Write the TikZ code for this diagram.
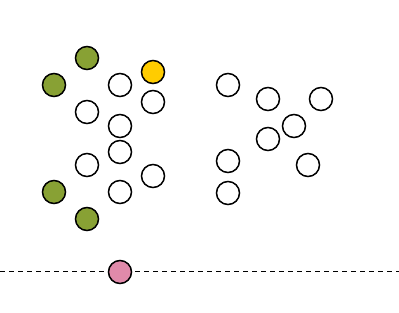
\documentclass[tikz,border=0pt]{standalone}
\definecolor{olive}{RGB}{136,161,52}
\definecolor{gold}{RGB}{255,204,0}
\definecolor{pinky}{RGB}{224,138,170}
\tikzset{
  dot/.style={circle,draw=black,line width=1.5pt,minimum size=23pt,inner sep=0pt,fill=white},
  gdot/.style={dot,fill=olive},
  ydot/.style={dot,fill=gold},
  pdot/.style={dot,fill=pinky},
  guide/.style={dashed,dash pattern=on 5pt off 4pt,line width=0.9pt}
}
\begin{document}
\begin{tikzpicture}[x=1pt,y=-1pt]
\useasboundingbox (0,0) rectangle (399,313);
\coordinate (l0) at (0,271);
\coordinate (l1) at (399,271);
\draw[guide] (l0) -- (l1);
\node[gdot] (g1) at (87,58) {};
\node[gdot] (g2) at (54,85) {};
\node[gdot] (g3) at (54,192) {};
\node[gdot] (g4) at (87,219) {};
\node[ydot] (y1) at (153,72) {};
\node[dot] (a1) at (120,85) {};
\node[dot] (a2) at (87,112) {};
\node[dot] (a3) at (153,102) {};
\node[dot] (a4) at (120,126) {};
\node[dot] (a5) at (120,152) {};
\node[dot] (a6) at (87,165) {};
\node[dot] (a7) at (153,176) {};
\node[dot] (a8) at (120,192) {};
\node[dot] (b1) at (228,85) {};
\node[dot] (b2) at (268,99) {};
\node[dot] (b3) at (321,99) {};
\node[dot] (b4) at (294,126) {};
\node[dot] (b5) at (268,139) {};
\node[dot] (b6) at (228,161) {};
\node[dot] (b7) at (308,165) {};
\node[dot] (b8) at (228,193) {};
\node[pdot] (p1) at (120,272) {};
\end{tikzpicture}
\end{document}
